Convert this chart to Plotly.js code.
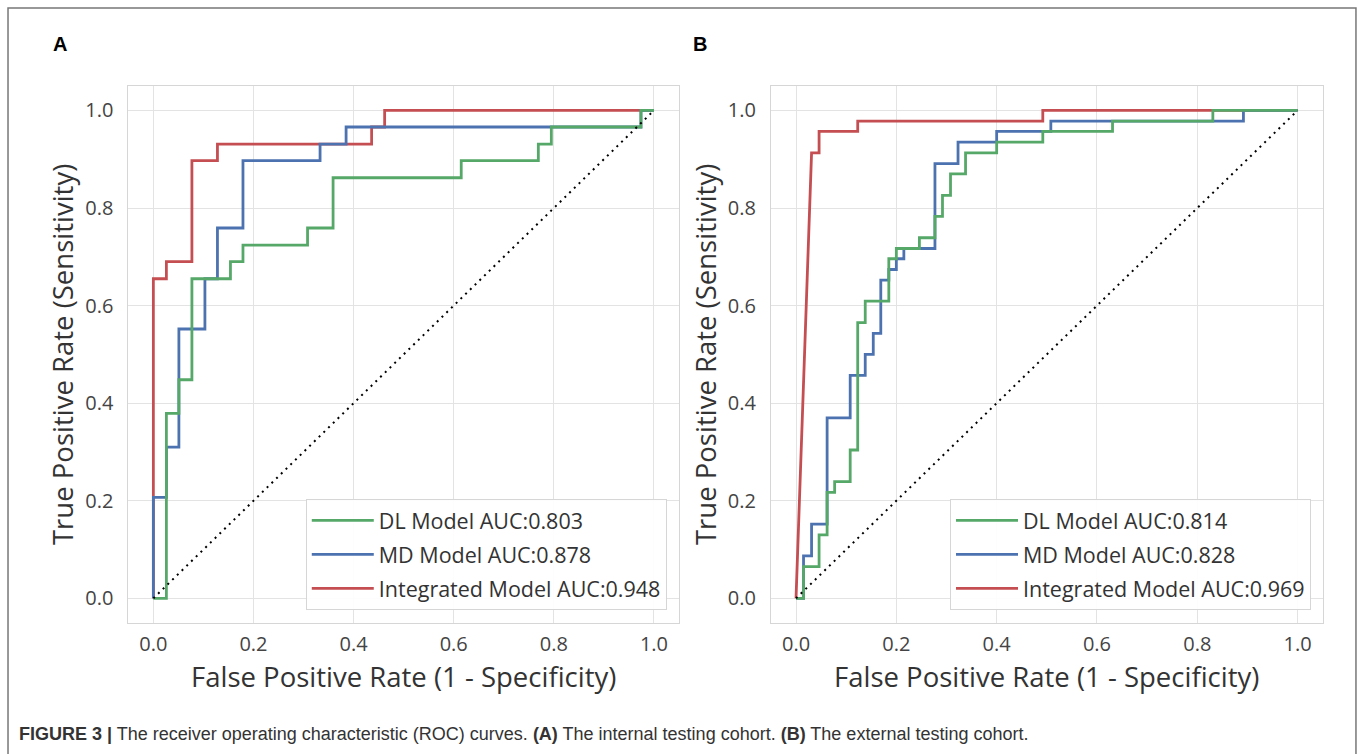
<!DOCTYPE html>
<html>
<head>
<meta charset="utf-8">
<script src="https://cdn.plot.ly/plotly-3.0.1.min.js"></script>
<style>html,body{margin:0;padding:0;background:#fff;}#chart{width:1358px;height:754px;}</style>
</head>
<body>
<div id="chart"></div>
<script>
// ---- Panel A: internal testing cohort ----
const a_dl_fpr  = [0, 0.026, 0.026, 0.051, 0.051, 0.077, 0.077, 0.154, 0.154, 0.179, 0.179, 0.308, 0.308, 0.359, 0.359, 0.615, 0.615, 0.769, 0.769, 0.795, 0.795, 0.974, 0.974, 1];
const a_dl_tpr  = [0, 0, 0.379, 0.379, 0.448, 0.448, 0.655, 0.655, 0.690, 0.690, 0.724, 0.724, 0.759, 0.759, 0.862, 0.862, 0.897, 0.897, 0.931, 0.931, 0.966, 0.966, 1, 1];
const a_md_fpr  = [0, 0, 0.026, 0.026, 0.051, 0.051, 0.103, 0.103, 0.128, 0.128, 0.179, 0.179, 0.333, 0.333, 0.385, 0.385, 0.974, 0.974, 1];
const a_md_tpr  = [0, 0.207, 0.207, 0.310, 0.310, 0.552, 0.552, 0.655, 0.655, 0.759, 0.759, 0.897, 0.897, 0.931, 0.931, 0.966, 0.966, 1, 1];
const a_int_fpr = [0, 0, 0.026, 0.026, 0.077, 0.077, 0.128, 0.128, 0.436, 0.436, 0.462, 0.462, 1];
const a_int_tpr = [0, 0.655, 0.655, 0.690, 0.690, 0.897, 0.897, 0.931, 0.931, 0.966, 0.966, 1, 1];
const a_names = ["DL Model AUC:0.803", "MD Model AUC:0.878", "Integrated Model AUC:0.948"];

// ---- Panel B: external testing cohort ----
const b_dl_fpr  = [0, 0.015, 0.015, 0.046, 0.046, 0.062, 0.062, 0.077, 0.077, 0.108, 0.108, 0.123, 0.123, 0.138, 0.138, 0.185, 0.185, 0.200, 0.200, 0.246, 0.246, 0.277, 0.277, 0.292, 0.292, 0.308, 0.308, 0.338, 0.338, 0.400, 0.400, 0.492, 0.492, 0.631, 0.631, 0.831, 0.831, 1];
const b_dl_tpr  = [0, 0, 0.065, 0.065, 0.130, 0.130, 0.217, 0.217, 0.239, 0.239, 0.304, 0.304, 0.565, 0.565, 0.609, 0.609, 0.696, 0.696, 0.717, 0.717, 0.739, 0.739, 0.783, 0.783, 0.826, 0.826, 0.870, 0.870, 0.913, 0.913, 0.935, 0.935, 0.957, 0.957, 0.978, 0.978, 1, 1];
const b_md_fpr  = [0, 0.015, 0.015, 0.031, 0.031, 0.062, 0.062, 0.108, 0.108, 0.138, 0.138, 0.154, 0.154, 0.169, 0.169, 0.185, 0.185, 0.200, 0.200, 0.215, 0.215, 0.277, 0.277, 0.323, 0.323, 0.400, 0.400, 0.508, 0.508, 0.892, 0.892, 1];
const b_md_tpr  = [0, 0, 0.087, 0.087, 0.152, 0.152, 0.370, 0.370, 0.457, 0.457, 0.500, 0.500, 0.543, 0.543, 0.652, 0.652, 0.674, 0.674, 0.696, 0.696, 0.717, 0.717, 0.891, 0.891, 0.935, 0.935, 0.957, 0.957, 0.978, 0.978, 1, 1];
const b_int_fpr = [0, 0.031, 0.046, 0.046, 0.123, 0.123, 0.492, 0.492, 1];
const b_int_tpr = [0, 0.913, 0.913, 0.957, 0.957, 0.978, 0.978, 1, 1];
const b_names = ["DL Model AUC:0.814", "MD Model AUC:0.828", "Integrated Model AUC:0.969"];

// chance line
const chance_x = [0, 1];
const chance_y = [0, 1];

const tickVals = [0, 0.2, 0.4, 0.6, 0.8, 1.0];
const tickText = ["0.0", "0.2", "0.4", "0.6", "0.8", "1.0"];
const xTitle = "False Positive Rate (1 - Specificity)";
const yTitle = "True Positive Rate (Sensitivity)";
const captionText = "<b>FIGURE 3 |</b> The receiver operating characteristic (ROC) curves. <b>(A)</b> The internal testing cohort. <b>(B)</b> The external testing cohort.";

const C_DL = "#55a868", C_MD = "#4c72b0", C_INT = "#c44e52";
const LW = 2.8;

function curve(x, y, name, color, xa, ya, leg, grp, rank) {
  return {x: x, y: y, name: name, type: "scatter", mode: "lines",
          line: {color: color, width: LW}, xaxis: xa, yaxis: ya,
          legend: leg, legendgroup: grp, legendrank: rank, hoverinfo: "skip"};
}
function diag(xa, ya) {
  return {x: chance_x, y: chance_y, type: "scatter", mode: "lines", showlegend: false,
          line: {color: "#000", width: 2, dash: "2px,4.6px"}, xaxis: xa, yaxis: ya, hoverinfo: "skip"};
}

const data = [
  curve(a_int_fpr, a_int_tpr, a_names[2], C_INT, "x", "y", "legend", "a3", 3),
  curve(a_md_fpr, a_md_tpr, a_names[1], C_MD, "x", "y", "legend", "a2", 2),
  curve(a_dl_fpr, a_dl_tpr, a_names[0], C_DL, "x", "y", "legend", "a1", 1),
  diag("x", "y"),
  curve(b_int_fpr, b_int_tpr, b_names[2], C_INT, "x2", "y2", "legend2", "b3", 3),
  curve(b_md_fpr, b_md_tpr, b_names[1], C_MD, "x2", "y2", "legend2", "b2", 2),
  curve(b_dl_fpr, b_dl_tpr, b_names[0], C_DL, "x2", "y2", "legend2", "b1", 1),
  diag("x2", "y2")
];

const FONT = "Open Sans, sans-serif";
const TITLE_SIZE = 27.5;
function xax(domain, anchor) {
  return {domain: domain, anchor: anchor, range: [-0.05, 1.05], tickvals: tickVals, ticktext: tickText,
          showgrid: true, gridcolor: "#e3e3e3", gridwidth: 1, zeroline: false,
          showline: true, mirror: true, linecolor: "#d6d6d6", linewidth: 1, ticks: "",
          ticklabelstandoff: 3, tickfont: {family: FONT, size: 20, color: "#444"}, automargin: false};
}
function yax(domain, anchor) {
  return {domain: domain, anchor: anchor, range: [-0.05, 1.05], tickvals: tickVals, ticktext: tickText,
          showgrid: true, gridcolor: "#e3e3e3", gridwidth: 1, zeroline: false,
          showline: true, mirror: true, linecolor: "#d6d6d6", linewidth: 1, ticks: "",
          ticklabelstandoff: 10, tickfont: {family: FONT, size: 20, color: "#444"},
          title: {text: yTitle, font: {family: FONT, size: TITLE_SIZE, color: "#333"}, standoff: 3}, automargin: false};
}
function legend(xr) {
  return {x: xr, xanchor: "right", y: 0.191, yanchor: "bottom", bgcolor: "rgba(255,255,255,0.9)",
          bordercolor: "#d6d6d6", borderwidth: 1, traceorder: "grouped", tracegroupgap: 3,
          itemwidth: 62, font: {family: FONT, size: 21.5, color: "#333"}};
}
function xTitleAnn(xc) {
  return {text: xTitle, xref: "paper", yref: "paper", x: xc, y: 0.1025, xanchor: "center", yanchor: "middle",
          showarrow: false, font: {family: FONT, size: TITLE_SIZE, color: "#333"}};
}

const xdomA = [0.0945, 0.5], xdomB = [0.5677, 0.974], ydom = [0.1741, 0.8859];

const layout = {
  width: 1358, height: 754,
  margin: {l: 0, r: 0, t: 0, b: 0},
  paper_bgcolor: "#fff", plot_bgcolor: "#fff",
  font: {family: FONT, color: "#333"},
  xaxis: xax(xdomA, "y"),
  yaxis: yax(ydom, "x"),
  xaxis2: xax(xdomB, "y2"),
  yaxis2: yax(ydom, "x2"),
  legend: legend(0.491),
  legend2: legend(0.9654),
  shapes: [{type: "path", xref: "paper", yref: "paper",
            path: "M 0.0059 0 L 0.0059 0.9894 L 0.9985 0.9894 L 0.9985 0",
            line: {color: "#777", width: 1.5}}],
  annotations: [
    xTitleAnn((xdomA[0] + xdomA[1]) / 2),
    xTitleAnn((xdomB[0] + xdomB[1]) / 2),
    {text: "<b>A</b>", xref: "paper", yref: "paper", x: 0.044, y: 0.941, xanchor: "center", yanchor: "middle",
     showarrow: false, font: {family: "Liberation Sans, Arial, sans-serif", size: 20, color: "#000"}},
    {text: "<b>B</b>", xref: "paper", yref: "paper", x: 0.5155, y: 0.941, xanchor: "center", yanchor: "middle",
     showarrow: false, font: {family: "Liberation Sans, Arial, sans-serif", size: 20, color: "#000"}},
    {text: captionText, xref: "paper", yref: "paper", x: 0.0125, y: 0.0265, xanchor: "left", yanchor: "middle",
     showarrow: false, font: {family: "Liberation Sans Narrow, Liberation Sans, sans-serif", size: 18, color: "#333"}}
  ]
};

Plotly.newPlot("chart", data, layout, {displayModeBar: false, staticPlot: true});
</script>
</body>
</html>
